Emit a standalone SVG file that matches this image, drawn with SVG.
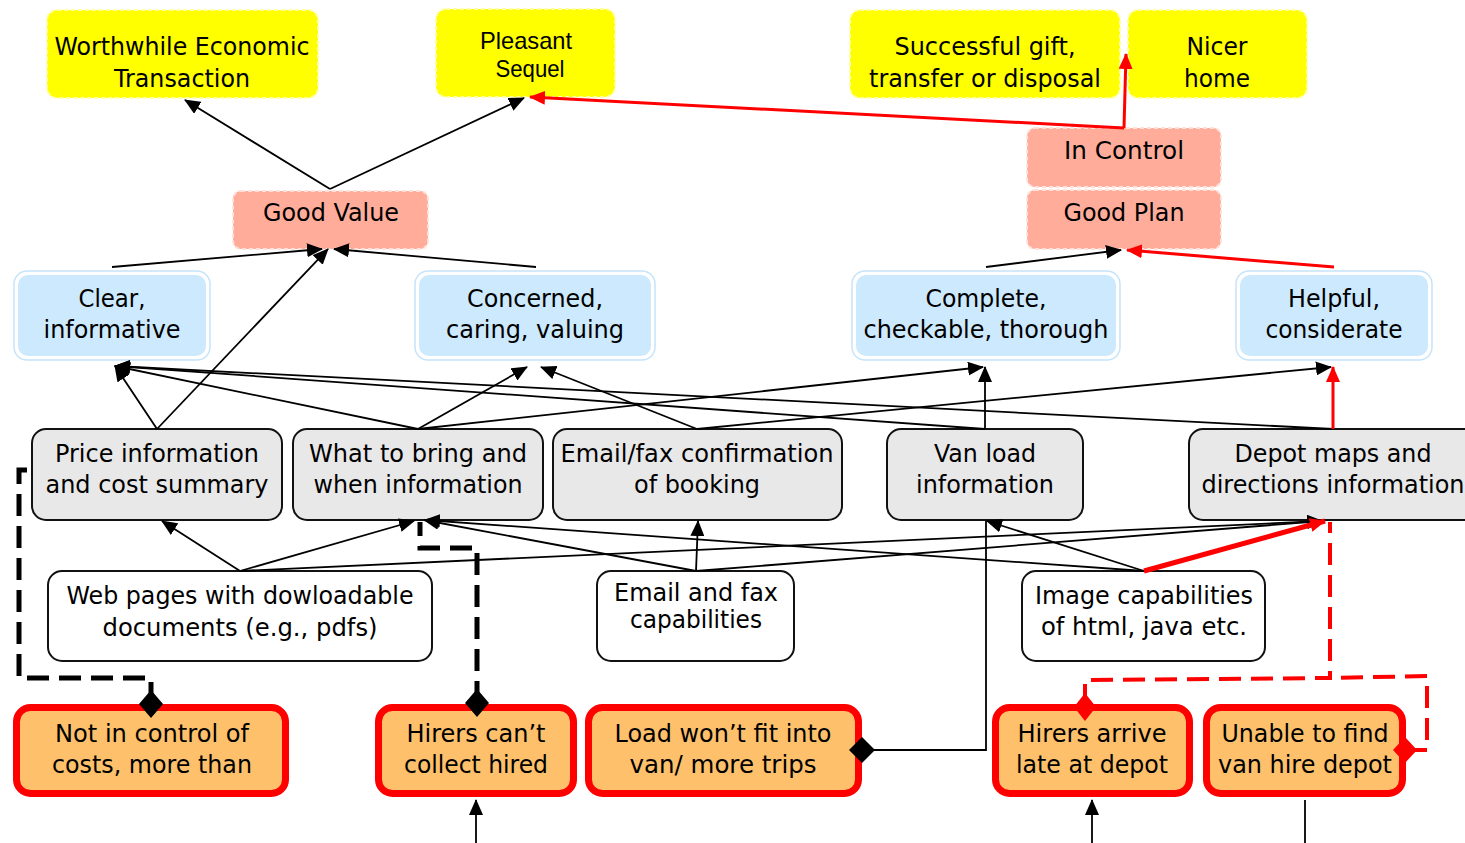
<svg xmlns="http://www.w3.org/2000/svg" width="1465" height="843" viewBox="0 0 1465 843">
<defs>
<style>
.t{font-family:"DejaVu Sans",Verdana,sans-serif;font-size:24px;text-anchor:middle;fill:#000}
.ta{font-family:"Liberation Sans",Arial,sans-serif;font-size:24px;text-anchor:middle;fill:#000}
.goal{fill:#ffff00;stroke:#ffffa8;stroke-width:2;stroke-dasharray:4 3}
.val{fill:#ffad9a;stroke:#ffe2da;stroke-width:2;stroke-dasharray:4 3}
.bout{fill:#fff;stroke:#c6e4fa;stroke-width:1.5}
.bin{fill:#cce9fd}
.gray{fill:#e8e8e8;stroke:#111;stroke-width:2}
.wht{fill:#fff;stroke:#111;stroke-width:2}
.prob{fill:#fec06a;stroke:#ff0000;stroke-width:7}
.c{fill:none;stroke:#000;stroke-width:1.8}
.r{fill:none;stroke:#f00;stroke-width:3}
.rt{fill:none;stroke:#f00;stroke-width:5}
.dk{fill:none;stroke:#000;stroke-width:5;stroke-dasharray:22 10}
.dr{fill:none;stroke:#f00;stroke-width:4;stroke-dasharray:22 10}
</style>
<marker id="ab" markerUnits="userSpaceOnUse" markerWidth="16" markerHeight="14" refX="15" refY="7" orient="auto"><path d="M0,0 L16,7 L0,14 z" fill="#000"/></marker>
<marker id="ar" markerUnits="userSpaceOnUse" markerWidth="16" markerHeight="14" refX="15" refY="7" orient="auto"><path d="M0,0 L16,7 L0,14 z" fill="#f00"/></marker>
</defs>
<rect width="1465" height="843" fill="#fff"/>

<g id="n-worthwhile"><rect class="goal" x="47" y="10" width="271" height="88" rx="10"/>
<text class="t" x="182" y="55" textLength="255" lengthAdjust="spacingAndGlyphs">Worthwhile Economic</text>
<text class="t" x="182" y="87" textLength="136" lengthAdjust="spacingAndGlyphs">Transaction</text></g>
<g id="n-pleasant"><rect class="goal" x="436" y="9" width="179" height="88" rx="10"/>
<text class="ta" x="526" y="49" textLength="92" lengthAdjust="spacingAndGlyphs">Pleasant</text>
<text class="ta" x="530" y="77" textLength="69" lengthAdjust="spacingAndGlyphs">Sequel</text></g>
<g id="n-successful"><rect class="goal" x="850" y="10" width="270" height="88" rx="10"/>
<text class="t" x="985" y="55" textLength="181" lengthAdjust="spacingAndGlyphs">Successful gift,</text>
<text class="t" x="985" y="87" textLength="232" lengthAdjust="spacingAndGlyphs">transfer or disposal</text></g>
<g id="n-nicer"><rect class="goal" x="1128" y="10" width="179" height="88" rx="10"/>
<text class="t" x="1217" y="55" textLength="61" lengthAdjust="spacingAndGlyphs">Nicer</text>
<text class="t" x="1217" y="87" textLength="66" lengthAdjust="spacingAndGlyphs">home</text></g>

<g id="n-goodvalue"><rect class="val" x="233" y="191" width="195" height="58" rx="8"/>
<text class="t" x="331" y="221" textLength="136" lengthAdjust="spacingAndGlyphs">Good Value</text></g>
<g id="n-incontrol"><rect class="val" x="1027" y="128" width="194" height="59" rx="8"/>
<text class="t" x="1124" y="159" textLength="120" lengthAdjust="spacingAndGlyphs">In Control</text></g>
<g id="n-goodplan"><rect class="val" x="1027" y="190" width="194" height="59" rx="8"/>
<text class="t" x="1124" y="221" textLength="121" lengthAdjust="spacingAndGlyphs">Good Plan</text></g>

<g id="n-clear"><rect class="bout" x="14" y="271" width="196" height="89" rx="13"/><rect class="bin" x="18" y="275" width="188" height="81" rx="10"/>
<text class="t" x="112" y="307" textLength="67" lengthAdjust="spacingAndGlyphs">Clear,</text>
<text class="t" x="112" y="338" textLength="137" lengthAdjust="spacingAndGlyphs">informative</text></g>
<g id="n-concerned"><rect class="bout" x="415" y="271" width="240" height="89" rx="13"/><rect class="bin" x="419" y="275" width="232" height="81" rx="10"/>
<text class="t" x="535" y="307" textLength="136" lengthAdjust="spacingAndGlyphs">Concerned,</text>
<text class="t" x="535" y="338" textLength="178" lengthAdjust="spacingAndGlyphs">caring, valuing</text></g>
<g id="n-complete"><rect class="bout" x="852" y="271" width="268" height="89" rx="13"/><rect class="bin" x="856" y="275" width="260" height="81" rx="10"/>
<text class="t" x="986" y="307" textLength="121" lengthAdjust="spacingAndGlyphs">Complete,</text>
<text class="t" x="986" y="338" textLength="245" lengthAdjust="spacingAndGlyphs">checkable, thorough</text></g>
<g id="n-helpful"><rect class="bout" x="1236" y="271" width="196" height="89" rx="13"/><rect class="bin" x="1240" y="275" width="188" height="81" rx="10"/>
<text class="t" x="1334" y="307" textLength="92" lengthAdjust="spacingAndGlyphs">Helpful,</text>
<text class="t" x="1334" y="338" textLength="137" lengthAdjust="spacingAndGlyphs">considerate</text></g>

<g id="n-price"><rect class="gray" x="32" y="429" width="250" height="91" rx="14"/>
<text class="t" x="157" y="462" textLength="204" lengthAdjust="spacingAndGlyphs">Price information</text>
<text class="t" x="157" y="493" textLength="223" lengthAdjust="spacingAndGlyphs">and cost summary</text></g>
<g id="n-whattobring"><rect class="gray" x="293" y="429" width="250" height="91" rx="14"/>
<text class="t" x="418" y="462" textLength="218" lengthAdjust="spacingAndGlyphs">What to bring and</text>
<text class="t" x="418" y="493" textLength="209" lengthAdjust="spacingAndGlyphs">when information</text></g>
<g id="n-emailconf"><rect class="gray" x="553" y="429" width="289" height="91" rx="14"/>
<text class="t" x="697" y="462" textLength="273" lengthAdjust="spacingAndGlyphs">Email/fax confirmation</text>
<text class="t" x="697" y="493" textLength="126" lengthAdjust="spacingAndGlyphs">of booking</text></g>
<g id="n-vanload"><rect class="gray" x="887" y="429" width="196" height="91" rx="14"/>
<text class="t" x="985" y="462" textLength="102" lengthAdjust="spacingAndGlyphs">Van load</text>
<text class="t" x="985" y="493" textLength="138" lengthAdjust="spacingAndGlyphs">information</text></g>
<g id="n-depot"><rect class="gray" x="1189" y="429" width="292" height="91" rx="14"/>
<text class="t" x="1333" y="462" textLength="197" lengthAdjust="spacingAndGlyphs">Depot maps and</text>
<text class="t" x="1333" y="493" textLength="263" lengthAdjust="spacingAndGlyphs">directions information</text></g>

<g id="n-webpages"><rect class="wht" x="48" y="571" width="384" height="90" rx="14"/>
<text class="t" x="240" y="604" textLength="347" lengthAdjust="spacingAndGlyphs">Web pages with dowloadable</text>
<text class="t" x="240" y="636" textLength="275" lengthAdjust="spacingAndGlyphs">documents (e.g., pdfs)</text></g>
<g id="n-emailcap"><rect class="wht" x="597" y="571" width="197" height="90" rx="14"/>
<text class="t" x="696" y="601" textLength="164" lengthAdjust="spacingAndGlyphs">Email and fax</text>
<text class="t" x="696" y="628" textLength="132" lengthAdjust="spacingAndGlyphs">capabilities</text></g>
<g id="n-imagecap"><rect class="wht" x="1022" y="571" width="243" height="90" rx="14"/>
<text class="t" x="1144" y="604" textLength="218" lengthAdjust="spacingAndGlyphs">Image capabilities</text>
<text class="t" x="1144" y="635" textLength="206" lengthAdjust="spacingAndGlyphs">of html, java etc.</text></g>

<g id="n-notincontrol"><rect class="prob" x="16.5" y="707.5" width="269" height="86" rx="14"/>
<text class="t" x="152" y="742" textLength="194" lengthAdjust="spacingAndGlyphs">Not in control of</text>
<text class="t" x="152" y="773" textLength="200" lengthAdjust="spacingAndGlyphs">costs, more than</text></g>
<g id="n-hirerscant"><rect class="prob" x="378.5" y="707.5" width="195" height="86" rx="14"/>
<text class="t" x="476" y="742" textLength="139" lengthAdjust="spacingAndGlyphs">Hirers can’t</text>
<text class="t" x="476" y="773" textLength="144" lengthAdjust="spacingAndGlyphs">collect hired</text></g>
<g id="n-loadwont"><rect class="prob" x="588.5" y="707.5" width="270" height="86" rx="14"/>
<text class="t" x="723" y="742" textLength="217" lengthAdjust="spacingAndGlyphs">Load won’t fit into</text>
<text class="t" x="723" y="773" textLength="187" lengthAdjust="spacingAndGlyphs">van/ more trips</text></g>
<g id="n-hirersarrive"><rect class="prob" x="995.5" y="707.5" width="194" height="86" rx="14"/>
<text class="t" x="1092" y="742" textLength="149" lengthAdjust="spacingAndGlyphs">Hirers arrive</text>
<text class="t" x="1092" y="773" textLength="152" lengthAdjust="spacingAndGlyphs">late at depot</text></g>
<g id="n-unable"><rect class="prob" x="1206.5" y="707.5" width="196" height="86" rx="14"/>
<text class="t" x="1305" y="742" textLength="167" lengthAdjust="spacingAndGlyphs">Unable to find</text>
<text class="t" x="1305" y="773" textLength="174" lengthAdjust="spacingAndGlyphs">van hire depot</text></g>

<g id="connectors">
<path class="c" marker-end="url(#ab)" d="M330,189 L185,100"/>
<path class="c" marker-end="url(#ab)" d="M330,189 L524,98"/>
<path class="r" marker-end="url(#ar)" d="M1124,128 L530,97"/>
<path class="r" marker-end="url(#ar)" d="M1124,128 L1126,54"/>
<path class="c" marker-end="url(#ab)" d="M112,267 L322,249"/>
<path class="c" marker-end="url(#ab)" d="M536,267 L334,249"/>
<path class="c" marker-end="url(#ab)" d="M157,429 L328,249"/>
<path class="c" marker-end="url(#ab)" d="M986,267 L1121,250"/>
<path class="r" marker-end="url(#ar)" d="M1334,267 L1127,250"/>

<path class="c" marker-end="url(#ab)" d="M157,429 L115,366"/>
<path class="c" marker-end="url(#ab)" d="M418,429 L115,366"/>
<path class="c" marker-end="url(#ab)" d="M985,429 L115,366"/>
<path class="c" marker-end="url(#ab)" d="M1333,429 L115,366"/>
<path class="c" marker-end="url(#ab)" d="M418,429 L527,367"/>
<path class="c" marker-end="url(#ab)" d="M697,429 L541,367"/>
<path class="c" marker-end="url(#ab)" d="M418,429 L983,367"/>
<path class="c" marker-end="url(#ab)" d="M985,429 L985,367"/>
<path class="c" marker-end="url(#ab)" d="M697,429 L1331,367"/>
<path class="r" marker-end="url(#ar)" d="M1333,429 L1333,367"/>

<path class="c" marker-end="url(#ab)" d="M240,571 L162,521"/>
<path class="c" marker-end="url(#ab)" d="M240,571 L414,521"/>
<path class="c" marker-end="url(#ab)" d="M240,571 L1322,521"/>
<path class="c" marker-end="url(#ab)" d="M696,571 L424,520"/>
<path class="c" marker-end="url(#ab)" d="M696,571 L698,521"/>
<path class="c" marker-end="url(#ab)" d="M696,571 L1322,521"/>
<path class="c" marker-end="url(#ab)" d="M1144,571 L425,520"/>
<path class="c" marker-end="url(#ab)" d="M1144,571 L987,521"/>
<path class="rt" marker-end="url(#ar)" d="M1144,571 L1325,521"/>

<path class="dk" d="M477,703 L477,548 L420,548 L420,522"/>
<path class="dk" d="M151,704 L151,678 L19,678 L19,470 L32,470"/>
<path class="dr" d="M1085,706 L1085,680 L1330,678 L1330,522"/>
<path class="dr" d="M1405,750 L1427,750 L1427,676 L1330,678"/>
<path class="c" d="M862,750 L986,750 L986,521"/>

<path class="c" marker-end="url(#ab)" d="M476,843 L476,800"/>
<path class="c" marker-end="url(#ab)" d="M1092,843 L1092,800"/>
<path class="c" d="M1305,800 L1305,843"/>

<path d="M151,690 L163,704 L151,718 L139,704 z" fill="#000"/>
<path d="M477,689 L489,703 L477,717 L465,703 z" fill="#000"/>
<path d="M862,737 L875,750 L862,763 L849,750 z" fill="#000"/>
<path d="M1085,693 L1096,707 L1085,721 L1074,707 z" fill="#f00"/>
<path d="M1405,737 L1417,750 L1405,763 L1393,750 z" fill="#f00"/>
</g>
</svg>
